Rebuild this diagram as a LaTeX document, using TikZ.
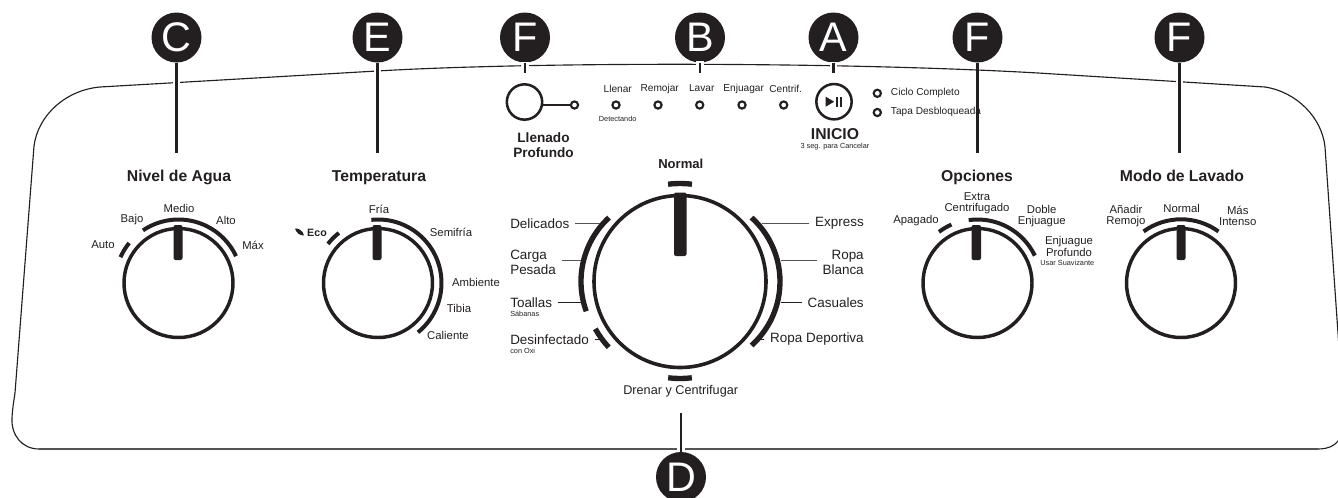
\documentclass[tikz,border=0pt]{standalone}
\usepackage{fontspec}
\setmainfont{Liberation Sans}
\definecolor{ink}{HTML}{231F20}
\definecolor{inkgray}{HTML}{555354}
\newcommand{\dialarc}[5]{\draw[dialarc] (#1,#2) ++(#4:#3) arc[start angle=#4,end angle=#5,radius=#3];}
\tikzset{
  outline/.style={draw=ink,line width=0.85pt},
  badge/.style={circle,fill=ink,text=white,minimum size=37.5pt,inner sep=0pt,outer sep=0pt,font=\fontsize{31}{31}\selectfont},
  callout/.style={draw=ink,line width=1.9pt},
  halo/.style={draw=white,line width=5.5pt},
  head/.style={inner sep=0pt,text=ink,align=center,text height=8.5pt,text depth=0pt,font=\fontsize{11.8}{14}\bfseries\selectfont},
  headb/.style={inner sep=0pt,text=ink,align=center,font=\fontsize{10.2}{11.25}\bfseries\selectfont},
  small/.style={inner sep=0pt,text=ink,align=center,font=\fontsize{8.5}{8.55}\selectfont},
  smallb/.style={small,font=\fontsize{8}{8.55}\bfseries\selectfont},
  mini/.style={inner sep=0pt,text=ink,align=center,font=\fontsize{7.6}{9}\selectfont},
  micro/.style={inner sep=0pt,text=ink,align=center,font=\fontsize{5.5}{6}\selectfont},
  prog/.style={inner xsep=4.1pt,inner ysep=0pt,text=ink,font=\fontsize{10.1}{11}\selectfont},
  progsub/.style={inner sep=0pt,text=ink,font=\fontsize{5.5}{6}\selectfont},
  knobsmall/.style={circle,draw=ink,line width=2.6pt,minimum size=81.75pt,inner sep=0pt,outer sep=0pt},
  knobbig/.style={circle,draw=ink,line width=2.7pt,minimum size=129pt,inner sep=0pt,outer sep=0pt},
  dialarc/.style={draw=ink,line width=3pt,line cap=butt},
  tickline/.style={draw=inkgray,line width=0.9pt},
  tickdark/.style={draw=ink,line width=0.9pt},
  pointer/.style={fill=ink,rounded corners=1.5pt},
  led/.style={circle,draw=ink,line width=1.6pt,minimum size=5.4pt,inner sep=0pt,outer sep=0pt},
  bigbutton/.style={circle,draw=ink,line width=1.9pt,minimum size=26.5pt,inner sep=0pt,outer sep=0pt},
}
\begin{document}
\begin{tikzpicture}[x=0.75pt,y=-0.75pt]
\useasboundingbox (0,0) rectangle (1338,497);
\clip (0,0) rectangle (1338,497);
% panel outline
\draw[outline] (100,87) -- (377,71) .. controls (534,61.75) and (842,61.75) .. (1038,73) -- (1265,87)
  .. controls (1297,92) and (1322,118) .. (1325,147) -- (1343,405)
  .. controls (1347,430) and (1342,449) .. (1318,449) -- (39,449)
  .. controls (22,449) and (11,435) .. (12,418) .. controls (12.5,408) and (14,400) .. (15,393)
  -- (34,146) .. controls (38,115) and (66,90) .. (100,87) -- cycle;
\draw[draw=inkgray,line width=1.3pt] (39,449) -- (1318,449);
% badges
\node[badge] (bC) at (176.5,37.5) {C};
\node[badge] (bE) at (377.5,37.5) {E};
\node[badge] (bF1) at (525,37.5) {F};
\node[badge] (bB) at (700,37.5) {B};
\node[badge] (bA) at (833.5,37.5) {A};
\node[badge] (bF2) at (977.5,37.5) {F};
\node[badge] (bF3) at (1179.5,37.5) {F};
\node[badge] (bD) at (681,477) {D};
% callout ends
\coordinate (eC) at (176.5,153);
\coordinate (eE) at (377.5,153);
\coordinate (eF1) at (525,73);
\coordinate (eB) at (700,73);
\coordinate (eA) at (833.5,73);
\coordinate (eF2) at (977.5,153);
\coordinate (eF3) at (1179.5,153);
\coordinate (eD) at (681,413);
% white gaps in the outline
\draw[halo] (176.5,78) -- (176.5,85);
\draw[halo] (377.5,67) -- (377.5,75);
\draw[halo] (525,62) -- (525,69);
\draw[halo] (700,61) -- (700,68);
\draw[halo] (833.5,62) -- (833.5,69);
\draw[halo] (1179.5,77) -- (1179.5,85);
\draw[halo] (681,445) -- (681,452);
% callouts
\foreach \a/\b in {bC/eC,bE/eE,bF1/eF1,bB/eB,bA/eA,bF2/eF2,bF3/eF3,bD/eD}{
  \draw[callout] (\a) -- (\b);
}
% knobs
\node[knobsmall] (kC) at (178.5,283) {};
\node[knobsmall] (kE) at (378,283) {};
\node[knobbig] (kM) at (680,281.5) {};
\node[knobsmall] (kO) at (977.5,283) {};
\node[knobsmall] (kL) at (1181,283) {};
% pointers
\fill[pointer] (173.5,225) rectangle (182.5,260);
\fill[pointer] (372.5,225) rectangle (381.5,260);
\fill[pointer] (971.5,225) rectangle (981,260);
\fill[pointer] (1176.5,225) rectangle (1185.5,260);
\fill[pointer] (674,192.5) rectangle (686.5,256);
% dial arcs
\dialarc{178.5}{283}{63.5}{-156}{-141}
\dialarc{178.5}{283}{63.5}{-124}{-25}
\dialarc{378}{283}{63.5}{-142}{-128}
\dialarc{378}{283}{63.5}{-96}{51}
\dialarc{977.5}{283}{64}{-127}{-114}
\dialarc{977.5}{283}{63.5}{-98}{-25.5}
\dialarc{1181}{283}{63.7}{-126}{-54}
% main dial marks
\begin{scope}[dialarc/.append style={line width=4pt}]
\dialarc{694}{281.5}{86}{-48}{48}
\dialarc{668}{281.5}{87}{-132.7}{-200}
\dialarc{680}{281.5}{97}{150.8}{137.3}
\dialarc{680}{281.5}{98}{-97}{-83}
\dialarc{680}{281.5}{97}{97}{83}
\end{scope}
% panel headings
\node[head] (tC) at (179,176) {Nivel de Agua};
\node[head] (tE) at (379,176) {Temperatura};
\node[head] (tO) at (977,176) {Opciones};
\node[head] (tL) at (1182,176) {Modo de Lavado};
% water level
\node[small] (w1) at (103,245) {Auto};
\node[small] (w2) at (132,220) {Bajo};
\node[small] (w3) at (179,208.5) {Medio};
\node[small] (w4) at (226,220) {Alto};
\node[small] (w5) at (253,245) {Máx};
% temperature
\fill[ink] (295,228.5) .. controls (299,228) and (303,231) .. (304,235.5) .. controls (299.5,235.5) and (296.5,233) .. (295,228.5) -- cycle;
\node[smallb] (t0) at (317,233) {Eco};
\node[small] (t1) at (379,209) {Fría};
\node[small] (t2) at (451,232) {Semifría};
\node[small] (t3) at (476,282) {Ambiente};
\node[small] (t4) at (459,308) {Tibia};
\node[small] (t5) at (448,335) {Caliente};
% deep fill
\node[bigbutton] (dfb) at (524.5,102) {};
\node[led] (dfl) at (574.5,105) {};
\draw[draw=ink,line width=1.6pt] (dfb.east |- dfl) -- (dfl);
\node[headb] (dft) at (543.5,145) {Llenado\\Profundo};
% cycle stages
\node[mini] (s1) at (617.7,88.5) {Llenar};
\node[mini] (s2) at (659.7,88.5) {Remojar};
\node[mini] (s3) at (701.7,88.5) {Lavar};
\node[mini] (s4) at (743.7,88.5) {Enjuagar};
\node[mini] (s5) at (785.7,88.5) {Centrif.};
\node[led] (l1) at (616,105) {};
\node[led] (l2) at (658,105) {};
\node[led] (l3) at (699.7,105) {};
\node[led] (l4) at (742,105) {};
\node[led] (l5) at (783.7,105) {};
\node[micro] (s1b) at (617.7,118.7) {Detectando};
% start
\node[bigbutton] (st) at (834,101.7) {};
\fill[ink] (825.7,96.7) -- (834.2,101.7) -- (825.7,106.7) -- cycle;
\fill[ink] (836.2,96.7) rectangle (838.4,106.7);
\fill[ink] (840.2,96.7) rectangle (842.4,106.7);
\node[head] (stt) at (835,134) {INICIO};
\node[micro] (sts) at (835,147) {3 seg. para Cancelar};
% status
\node[led] (c1) at (877.3,93.3) {};
\node[led] (c2) at (877.3,112.5) {};
\node[mini,anchor=west] (c1t) at (890.7,93) {Ciclo Completo};
\node[mini,anchor=west] (c2t) at (890.7,112) {Tapa Desbloqueada};
% main dial labels
\node[headb,font=\fontsize{9.8}{11}\bfseries\selectfont] (pN) at (680.8,164) {Normal};
\node[prog,anchor=west,xshift=-4.1pt] (pDel) at (510,223.5) {Delicados};
\node[prog,anchor=west,xshift=-4.1pt,align=left] (pCar) at (510,262) {Carga\\[0.2pt]Pesada};
\node[prog,anchor=west,xshift=-4.1pt] (pToa) at (510,302.3) {Toallas};
\node[progsub,anchor=west] (pToa2) at (510,314.3) {Sábanas};
\node[prog,anchor=west,xshift=-4.1pt] (pDes) at (510,339.3) {Desinfectado};
\node[progsub,anchor=west] (pDes2) at (510,351) {con Oxi};
\node[prog,anchor=east,xshift=4.1pt] (pExp) at (864,223.5) {Express};
\node[prog,anchor=east,xshift=4.1pt,align=right] (pRop) at (864,262) {Ropa\\[0.2pt]Blanca};
\node[prog,anchor=east,xshift=4.1pt] (pCas) at (864,302.3) {Casuales};
\node[prog,anchor=east,xshift=4.1pt] (pDep) at (864,339.3) {Ropa Deportiva};
\node[prog,font=\fontsize{9.5}{11}\selectfont] (pDre) at (680.7,391.3) {Drenar y Centrifugar};
\coordinate (cDel) at (600,223.5);
\coordinate (cCar) at (580.7,260.7);
\coordinate (cToa) at (580.7,302.3);
\coordinate (cDes) at (601.7,339.3);
\coordinate (cExp) at (761.7,223.5);
\coordinate (cRop) at (780.7,260.7);
\coordinate (cCas) at (780.7,302.3);
\coordinate (cDep) at (758,339.3);
\draw[tickline] (pDel.east) -- (cDel);
\draw[tickline] (pCar.east |- cCar) -- (cCar);
\draw[tickdark] (pToa.east) -- (cToa);
\draw[tickdark] (pDes.east) -- (cDes);
\draw[tickline] (pExp.west) -- (cExp);
\draw[tickline] (pRop.west |- cRop) -- (cRop);
\draw[tickdark] (pCas.west) -- (cCas);
\draw[tickdark] (pDep.west) -- (cDep);
% options
\node[small] (o1) at (916,220.7) {Apagado};
\node[small] (o2) at (977,203) {Extra\\Centrifugado};
\node[small] (o3) at (1041.7,215.8) {Doble\\Enjuague};
\node[small] (o4) at (1069,246.5) {Enjuague\\Profundo};
\node[micro] (o4b) at (1067.3,263.3) {Usar Suavizante};
% wash mode
\node[small] (m1) at (1126,215.8) {Añadir\\Remojo};
\node[small] (m2) at (1181.7,208.7) {Normal};
\node[small] (m3) at (1237.7,215.8) {Más\\Intenso};
\end{tikzpicture}
\end{document}
